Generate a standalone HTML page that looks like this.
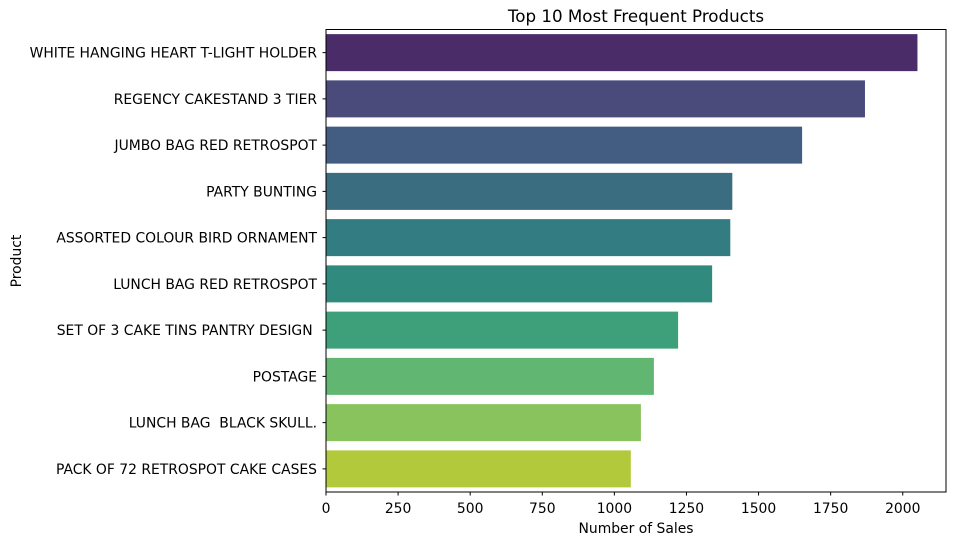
<!DOCTYPE html>
<html><head><meta charset="utf-8"><style>
body{margin:0;background:#fff;}
svg text{font-family:"DejaVu Sans","Liberation Sans",sans-serif;fill:#000;}
</style></head><body>
<svg id="chart" width="956" height="545" xmlns="http://www.w3.org/2000/svg">
<text x="636" y="22" font-size="16.7" text-anchor="middle">Top 10 Most Frequent Products</text>
<g id="bars"></g>
<g id="yaxis"></g>
<g id="xaxis"></g>
<rect x="326" y="29.5" width="620" height="462.5" fill="none" stroke="#000" stroke-width="1"/>
<text x="636" y="533" font-size="13.9" text-anchor="middle">Number of Sales</text>
<text x="21" y="261" font-size="13.9" text-anchor="middle" transform="rotate(-90 21 261)">Product</text>
</svg>
<script>
const categories = ["WHITE HANGING HEART T-LIGHT HOLDER","REGENCY CAKESTAND 3 TIER","JUMBO BAG RED RETROSPOT","PARTY BUNTING","ASSORTED COLOUR BIRD ORNAMENT","LUNCH BAG RED RETROSPOT","SET OF 3 CAKE TINS PANTRY DESIGN ","POSTAGE","LUNCH BAG  BLACK SKULL.","PACK OF 72 RETROSPOT CAKE CASES"];
const values = [2051, 1869, 1651, 1409, 1402, 1339, 1221, 1137, 1092, 1057];
const colors = ["#4a2c69","#4a4a7b","#435d82","#3a6d80","#337c81","#308b7e","#3da07b","#61b672","#89c35e","#b2c93b"];
const xTicks = [0,250,500,750,1000,1250,1500,1750,2000];
const NS="http://www.w3.org/2000/svg";
const x0=326, x1=946, xMax=2150, y0=29.5, y1=492;
const xs=v=>x0+(v/xMax)*(x1-x0);
const band=(y1-y0)/categories.length;
const yc=i=>y0+band*(i+0.5);
const bars=document.getElementById('bars'), ya=document.getElementById('yaxis'), xa=document.getElementById('xaxis');
function mk(t,a){const e=document.createElementNS(NS,t);for(const k in a)e.setAttribute(k,a[k]);return e;}
categories.forEach((c,i)=>{
  const r=mk('rect',{x:x0,y:yc(i)-band*0.4,width:xs(values[i])-x0,height:band*0.8,fill:colors[i]});
  
  
  bars.appendChild(r);
  const tk=mk('line',{x1:x0-3.5,x2:x0,y1:yc(i),y2:yc(i),stroke:'#000'});
  
  
  ya.appendChild(tk);
  const t=mk('text',{x:x0-9,y:yc(i)+5,'font-size':13.9,'text-anchor':'end'});
  
  
  t.setAttribute('xml:space','preserve');
  t.style.whiteSpace='pre';
  t.textContent=c;
  ya.appendChild(t);
});
xTicks.forEach(v=>{
  const tk=mk('line',{x1:xs(v),x2:xs(v),y1:y1,y2:y1+3.5,stroke:'#000'});
  
  
  xa.appendChild(tk);
  const t=mk('text',{x:xs(v),y:y1+21,'font-size':13.9,'text-anchor':'middle'});
  
  
  t.textContent=v;
  xa.appendChild(t);
});
</script>
</body></html>
